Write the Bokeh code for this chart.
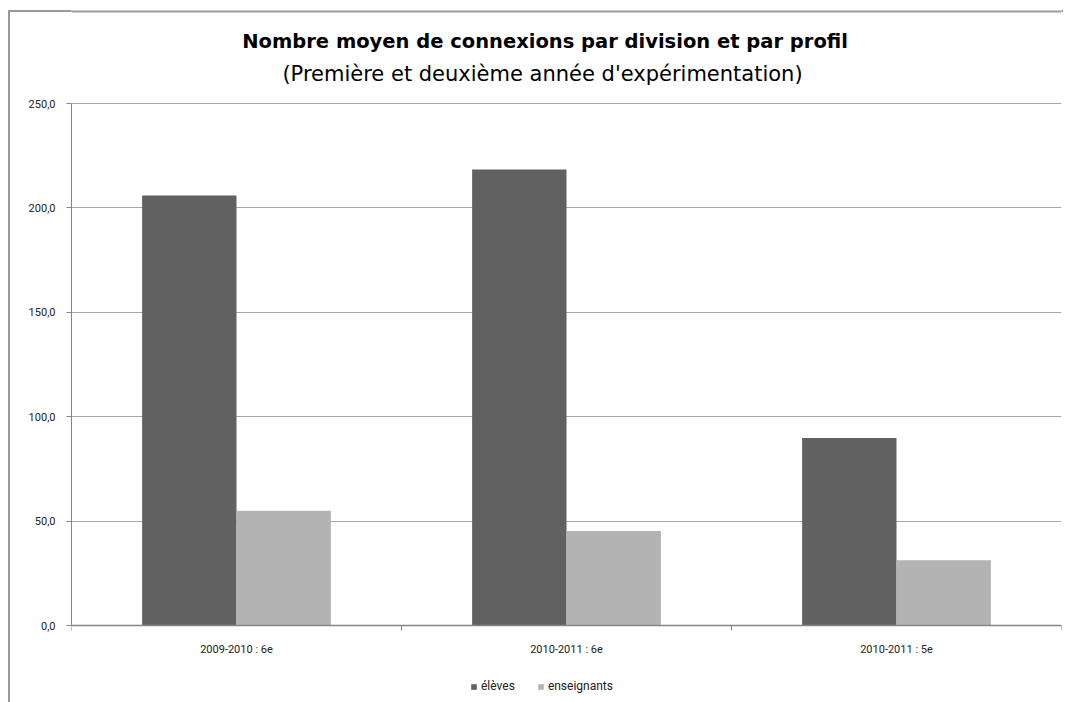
from bokeh.plotting import figure
from bokeh.models import Range1d, FixedTicker, Label, Legend, LegendItem, Span
from bokeh.embed import file_html
from bokeh.resources import INLINE

# ---- data ----
categories = ["2009-2010 : 6e", "2010-2011 : 6e", "2010-2011 : 5e"]
eleves = [205.9, 218.4, 89.8]
enseignants = [54.9, 45.2, 31.2]
series_names = ["élèves", "enseignants"]
y_ticks = [0, 50, 100, 150, 200, 250]
y_tick_labels = ["0,0", "50,0", "100,0", "150,0", "200,0", "250,0"]
title_text = "Nombre  moyen de connexions par division et par profil"
subtitle_text = "(Première et deuxième année d'expérimentation)"

FONT = "Roboto"
TFONT = "DejaVu Sans"
C_ELEVES = "#616161"
C_ENS = "#b3b3b3"
BORDER = "#9a9a9a"

# ---- layout (pixels) ----
W, H = 1063, 702
Y_MAX_PX, Y0_PX = 103, 625          # where the top of the value axis and zero sit
BORDER_TOP_PX = 11
y_max = y_ticks[-1]
px_per_unit = (Y0_PX - Y_MAX_PX) / y_max
y_lo = -(H - Y0_PX) / px_per_unit
y_hi = y_max + Y_MAX_PX / px_per_unit

n = len(categories)
bw = 0.286
x_el = [i + 0.5 - bw / 2 for i in range(n)]
x_en = [i + 0.5 + bw / 2 for i in range(n)]

p = figure(width=W, height=H, output_backend="svg", toolbar_location=None,
           x_range=Range1d(0, n), y_range=Range1d(y_lo, y_hi),
           min_border_left=71, min_border_right=2, min_border_top=0, min_border_bottom=0,
           background_fill_color="white", border_fill_color=None)
p.outline_line_color = None
p.title.visible = False
# chart-area border (left edge and top edge, outside the plot area)
p.styles = {"background": (f"linear-gradient({BORDER},{BORDER}) 8px 10px / 2px 100% no-repeat, "
                           f"linear-gradient({BORDER},{BORDER}) 8px 10px / 100% 2px no-repeat, white")}
# top edge of the chart-area border across the plot area
p.add_layout(Span(location=y_hi - BORDER_TOP_PX / px_per_unit, dimension="width",
                  line_color=BORDER, line_width=2))

r1 = p.vbar(x=x_el, top=eleves, width=bw, fill_color=C_ELEVES, line_color=None)
r2 = p.vbar(x=x_en, top=enseignants, width=bw, fill_color=C_ENS, line_color=None)

# grid
p.xgrid.grid_line_color = None
p.ygrid.ticker = FixedTicker(ticks=y_ticks)
p.ygrid.grid_line_color = "#a8a8a8"
p.ygrid.grid_line_width = 1

# y axis
p.yaxis.ticker = FixedTicker(ticks=y_ticks)
p.yaxis.bounds = (0, y_max)
p.yaxis.major_label_overrides = {t: l for t, l in zip(y_ticks, y_tick_labels)}
p.yaxis.axis_line_color = "#868686"
p.yaxis.major_tick_line_color = "#868686"
p.yaxis.major_tick_out = 5
p.yaxis.major_tick_in = 0
p.yaxis.minor_tick_line_color = None
p.yaxis.major_label_standoff = 11
p.yaxis.major_label_text_font = FONT
p.yaxis.major_label_text_font_size = "11px"
p.yaxis.major_label_text_color = "#222222"

# x axis (drawn at value 0)
centers = [i + 0.5 for i in range(n)]
p.xaxis.fixed_location = 0
p.xaxis.ticker = FixedTicker(ticks=centers, minor_ticks=list(range(n + 1)))
p.xaxis.major_label_overrides = {c: cat for c, cat in zip(centers, categories)}
p.xaxis.axis_line_color = "#868686"
p.xaxis.axis_line_width = 1.5
p.xaxis.major_tick_line_color = None
p.xaxis.major_tick_out = 0
p.xaxis.major_tick_in = 0
p.xaxis.minor_tick_line_color = "#868686"
p.xaxis.minor_tick_out = 5
p.xaxis.minor_tick_in = 0
p.xaxis.major_label_standoff = 12
p.xaxis.major_label_text_font = FONT
p.xaxis.major_label_text_font_size = "11px"
p.xaxis.major_label_text_color = "#222222"

# titles (screen px relative to the plot area's bottom-left)
p.add_layout(Label(x=477, y=H - 41, x_units="screen", y_units="screen", text=title_text,
                   text_align="center", text_baseline="middle", text_font=TFONT,
                   text_font_size="19.5px", text_font_style="bold", text_color="black"))
p.add_layout(Label(x=471, y=H - 73, x_units="screen", y_units="screen", text=subtitle_text,
                   text_align="center", text_baseline="middle", text_font=TFONT,
                   text_font_size="21px", text_color="black"))

legend = Legend(items=[LegendItem(label=series_names[0], renderers=[r1]),
                       LegendItem(label=series_names[1], renderers=[r2])],
                location=(399, 9), orientation="horizontal",
                glyph_width=7, glyph_height=7, label_standoff=4, spacing=22,
                padding=0, margin=0, border_line_color=None, background_fill_alpha=0,
                label_text_font=FONT, label_text_font_size="12px", label_height=12,
                label_text_color="#222222")
p.add_layout(legend, "center")

open("out.html", "w").write(file_html(p, INLINE))
